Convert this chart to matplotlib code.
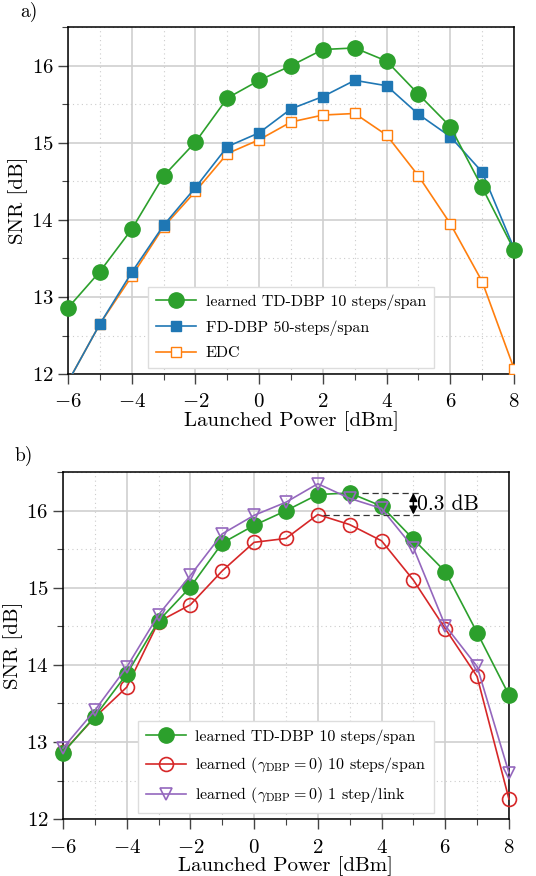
import numpy as np
import matplotlib
matplotlib.use("Agg")
import matplotlib.pyplot as plt
from matplotlib.ticker import MultipleLocator

plt.rcParams['font.family'] = 'cmr10'
plt.rcParams['mathtext.fontset'] = 'cm'
plt.rcParams['axes.formatter.use_mathtext'] = True
plt.rcParams['axes.unicode_minus'] = True

power = [-6, -5, -4, -3, -2, -1, 0, 1, 2, 3, 4, 5, 6, 7, 8]

# panel a)
td_dbp = [12.86, 13.33, 13.88, 14.57, 15.01, 15.58, 15.81, 16.00, 16.21, 16.23, 16.06, 15.63, 15.21, 14.42, 13.61]
fd_dbp = [11.90, 12.65, 13.32, 13.93, 14.42, 14.95, 15.13, 15.44, 15.60, 15.81, 15.74, 15.37, 15.08, 14.62, 13.63]
edc = [11.90, 12.65, 13.27, 13.91, 14.37, 14.86, 15.04, 15.27, 15.36, 15.38, 15.10, 14.57, 13.95, 13.20, 12.07]

# panel b)
gamma0_10 = [12.87, 13.32, 13.71, 14.56, 14.78, 15.22, 15.59, 15.64, 15.95, 15.82, 15.61, 15.10, 14.47, 13.85, 12.26]
gamma0_1 = [12.92, 13.41, 13.97, 14.65, 15.16, 15.70, 15.94, 16.11, 16.35, 16.16, 16.03, 15.52, 14.51, 13.98, 12.60]

green = '#2ca02c'
blue = '#1f77b4'
orange = '#ff7f0e'
red = '#d62728'
purple = '#9467bd'

fig = plt.figure(figsize=(5.36, 8.76), dpi=100)
ax1 = fig.add_axes([0.127, 0.573, 0.832, 0.396])
ax2 = fig.add_axes([0.1175, 0.065, 0.832, 0.396])


def style(ax):
    ax.set_xlim(-6, 8)
    ax.set_ylim(12, 16.5)
    ax.xaxis.set_major_locator(MultipleLocator(2))
    ax.xaxis.set_minor_locator(MultipleLocator(1))
    ax.yaxis.set_major_locator(MultipleLocator(1))
    ax.yaxis.set_minor_locator(MultipleLocator(0.5))
    ax.grid(which='major', color='#cfcfcf', linewidth=1.2)
    ax.grid(which='minor', color='#cccccc', linewidth=0.8, linestyle=(0, (1, 3)))
    ax.set_axisbelow(True)
    ax.tick_params(which='major', direction='out', length=7, width=1.0,
                   color='#444444', labelsize=15, top=False, right=False)
    ax.tick_params(which='minor', direction='out', length=4.5, width=0.8,
                   color='#444444', top=False, right=False)
    ax.tick_params(axis='x', which='major', pad=7)
    for s in ax.spines.values():
        s.set_linewidth(1.1)
    ax.set_xlabel('Launched Power [dBm]', fontsize=15, labelpad=0)
    ax.set_ylabel('SNR [dB]', fontsize=15, labelpad=2)


lw = 1.2
leg_kw = dict(loc='lower center', fontsize=11.5, frameon=True, fancybox=False,
              edgecolor='#dddddd', framealpha=1, borderaxespad=0.35,
              handlelength=2.5, handletextpad=0.6, labelspacing=0.65, borderpad=0.5)

ax1.plot(power, td_dbp, color=green, marker='o', ms=11, lw=lw,
         label='learned TD-DBP 10 steps/span', clip_on=False, zorder=5)
ax1.plot(power, fd_dbp, color=blue, marker='s', ms=7, lw=lw,
         label='FD-DBP 50-steps/span', clip_on=True, zorder=4)
ax1.plot(power, edc, color=orange, marker='s', ms=7, lw=lw, mfc='white',
         label='EDC', clip_on=True, zorder=3)
style(ax1)
ax1.legend(**leg_kw)

ax2.plot(power, td_dbp, color=green, marker='o', ms=11, lw=lw,
         label='learned TD-DBP 10 steps/span', clip_on=False, zorder=5)
ax2.plot(power, gamma0_10, color=red, marker='o', ms=10, lw=lw, mfc='none', mew=1.2,
         label=r'learned ($\gamma_{\mathrm{DBP}}=0$) 10 steps/span', clip_on=False, zorder=4)
ax2.plot(power, gamma0_1, color=purple, marker='v', ms=8, lw=lw, mfc='none', mew=1.2,
         label=r'learned ($\gamma_{\mathrm{DBP}}=0$) 1 step/link', clip_on=False, zorder=6)
style(ax2)
ax2.legend(**leg_kw)

# 0.3 dB gap annotation
hi = td_dbp[9]
lo = gamma0_10[8]
ax2.plot([3.38, 5.22], [hi, hi], color='#333333', lw=0.9, ls=(0, (5, 3)), zorder=7)
ax2.plot([2.17, 5.27], [lo, lo], color='#333333', lw=0.9, ls=(0, (5, 3)), zorder=7)
ax2.annotate('', xy=(5.0, lo), xytext=(5.0, hi),
             arrowprops=dict(arrowstyle='<|-|>', color='black', lw=1.1,
                             mutation_scale=12, shrinkA=0, shrinkB=0), zorder=8)
ax2.text(5.12, (hi + lo) / 2, '0.3 dB', fontsize=15.5, va='center', ha='left', zorder=8)

fig.text(0.037, 0.986, 'a)', fontsize=14, va='center', ha='left')
fig.text(0.028, 0.480, 'b)', fontsize=14, va='center', ha='left')

fig.savefig('out.png', dpi=100)
